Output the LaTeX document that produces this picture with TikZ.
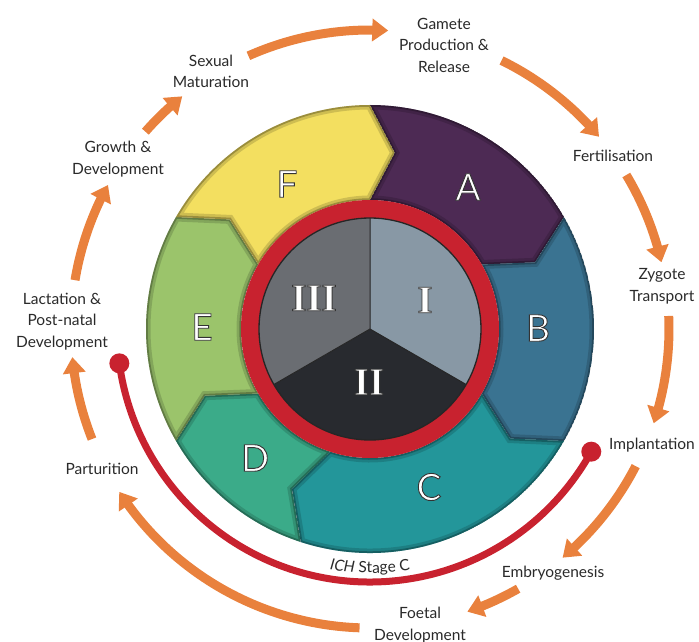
\documentclass[tikz,border=0pt]{standalone}
\usepackage{fontspec}
\setmainfont{Lato}
\newfontfamily\romanfont{Liberation Serif}
\usetikzlibrary{arrows.meta,bending,decorations.text}
\definecolor{segA}{HTML}{4D2A54}
\definecolor{segB}{HTML}{3A7391}
\definecolor{segC}{HTML}{23969A}
\definecolor{segD}{HTML}{3BAB89}
\definecolor{segE}{HTML}{9BC46B}
\definecolor{segF}{HTML}{F3DF60}
\definecolor{pieI}{HTML}{8898A5}
\definecolor{pieII}{HTML}{282A2F}
\definecolor{pieIII}{HTML}{6A6D72}
\definecolor{orng}{HTML}{E9813D}
\definecolor{ringred}{HTML}{C8222F}
\definecolor{txt}{HTML}{2A2A2A}
\newcommand\outl[1]{\special{pdf:literal direct 2 Tr 0.9 w 0.2 0.2 0.2 RG}#1\special{pdf:literal direct 0 Tr}}
\newcommand\mysegpath[2]{(#1:224) -- ({#1-8}:178) -- (#1:129) arc[start angle=#1, end angle=#2, radius=129] -- ({#2-8}:178) -- (#2:224) arc[start angle=#2, end angle=#1, radius=224] -- cycle}
\newcommand\mysegment[3]{%
  \begin{scope}
    \clip \mysegpath{#2}{#3};
    \fill[#1] \mysegpath{#2}{#3};
    \draw[black, opacity=0.15, line width=9pt] \mysegpath{#2}{#3};
    \draw[black, opacity=0.25, line width=3.5pt] \mysegpath{#2}{#3};
  \end{scope}}
\begin{document}
\begin{tikzpicture}[x=1pt,y=1pt,
  lbl/.style={font=\fontsize{15.5}{21.5}\selectfont, text=txt, align=center, inner sep=0pt},
  seglbl/.style={font=\fontsize{37}{40}\selectfont, text=white, inner sep=0pt},
  numlbl/.style={font=\romanfont\bfseries\fontsize{39}{40}\selectfont, text=white, inner sep=0pt},
  cyc/.style={draw=orng, line width=9pt, -{Triangle[width=22pt,length=16pt]}},
  ich/.style={draw=ringred, line width=7pt},
]
\useasboundingbox (0,0) rectangle (699,641);
\begin{scope}[shift={(370,312)}]
  % outer segments
  \mysegment{segA}{90}{30}
  \mysegment{segB}{30}{-30}
  \mysegment{segC}{-30}{-108}
  \mysegment{segD}{-108}{-150}
  \mysegment{segE}{-150}{-210}
  \mysegment{segF}{-210}{-270}
  % red ring
  \draw[ringred, line width=18pt] (0,0) circle[radius=120];
  % inner pie
  \coordinate (ctr) at (0,0);
  \fill[pieI] (ctr) -- (90:111) arc[start angle=90, end angle=-30, radius=111] -- cycle;
  \fill[pieII] (ctr) -- (-30:111) arc[start angle=-30, end angle=-150, radius=111] -- cycle;
  \fill[pieIII] (ctr) -- (-150:111) arc[start angle=-150, end angle=-270, radius=111] -- cycle;
  \draw[black!85, line width=1pt] (ctr) -- (90:111) (ctr) -- (-30:111) (ctr) -- (-150:111);
  \draw[black!85, line width=1.3pt] (ctr) circle[radius=111];
  % orange cycle arrows
  \coordinate (o1) at (114:299);
  \coordinate (o2) at (63.9:299);
  \coordinate (o3) at (31:299);
  \coordinate (o4) at (2.5:299);
  \coordinate (o5) at (-27.3:299);
  \coordinate (o6) at (-60.3:299);
  \coordinate (o7) at (-92:299);
  \coordinate (o8) at (-158.4:299);
  \coordinate (o9) at (-189.4:299);
  \coordinate (o10) at (-221.3:299);
  \draw[cyc] (o1) arc[start angle=114, end angle=86.5, radius=299];
  \draw[cyc] (o2) arc[start angle=63.9, end angle=40, radius=299];
  \draw[cyc] (o3) arc[start angle=31, end angle=12.9, radius=299];
  \draw[cyc] (o4) arc[start angle=2.5, end angle=-18.4, radius=299];
  \draw[cyc] (o5) arc[start angle=-27.3, end angle=-49.9, radius=299];
  \draw[cyc] (o6) arc[start angle=-60.3, end angle=-71, radius=299];
  \draw[cyc] (o7) arc[start angle=-92, end angle=-147, radius=299];
  \draw[cyc] (o8) arc[start angle=-158.4, end angle=-174.6, radius=299];
  \draw[cyc] (o9) arc[start angle=-189.4, end angle=-208.8, radius=299];
  \draw[cyc] (o10) arc[start angle=-221.3, end angle=-231.1, radius=299];
  % ICH stage C arc
  \coordinate (ichL) at (187.8:253);
  \coordinate (ichR) at (331:253);
  \draw[ich] (ichL) arc[start angle=187.8, end angle=331, radius=253];
  \fill[ringred] (ichL) circle[radius=10];
  \fill[ringred] (ichR) circle[radius=10];
  \path[decorate, decoration={text along path, text align=center,
    text={|\fontsize{15.5}{18}\selectfont\color{txt}\itshape|ICH|\fontsize{15.5}{18}\selectfont\color{txt}\upshape| Stage C}}]
    (245:244) arc[start angle=245, end angle=295, radius=244];
\end{scope}
% segment letters
\node[seglbl] (lA) at (468,454) {\outl{A}};
\node[seglbl] (lB) at (538,313) {\outl{B}};
\node[seglbl] (lC) at (429,154) {\outl{C}};
\node[seglbl] (lD) at (255,183) {\outl{D}};
\node[seglbl] (lE) at (202,314) {\outl{E}};
\node[seglbl] (lF) at (287,457) {\outl{F}};
% roman numerals
\node[numlbl] (nI) at (425,341) {\outl{I}};
\node[numlbl] (nII) at (369,259) {\outl{II}};
\node[numlbl] (nIII) at (314,343) {\outl{III}};
% cycle labels
\node[lbl] (gam) at (444,596) {Gamete\\Production \&\\Release};
\node[lbl] (fer) at (613,485) {Fertilisation};
\node[lbl] (zyg) at (662,354.5) {Zygote\\Transport};
\node[lbl] (imp) at (652,196) {Implantation};
\node[lbl] (emb) at (553,68) {Embryogenesis};
\node[lbl] (foe) at (420,16) {Foetal\\Development};
\node[lbl] (par) at (102,172) {Parturition};
\node[lbl] (lac) at (62,319.5) {Lactation \&\\Post-natal\\Development};
\node[lbl] (gro) at (118,482) {Growth \&\\Development};
\node[lbl] (sex) at (211,569.5) {Sexual\\Maturation};
\end{tikzpicture}
\end{document}
